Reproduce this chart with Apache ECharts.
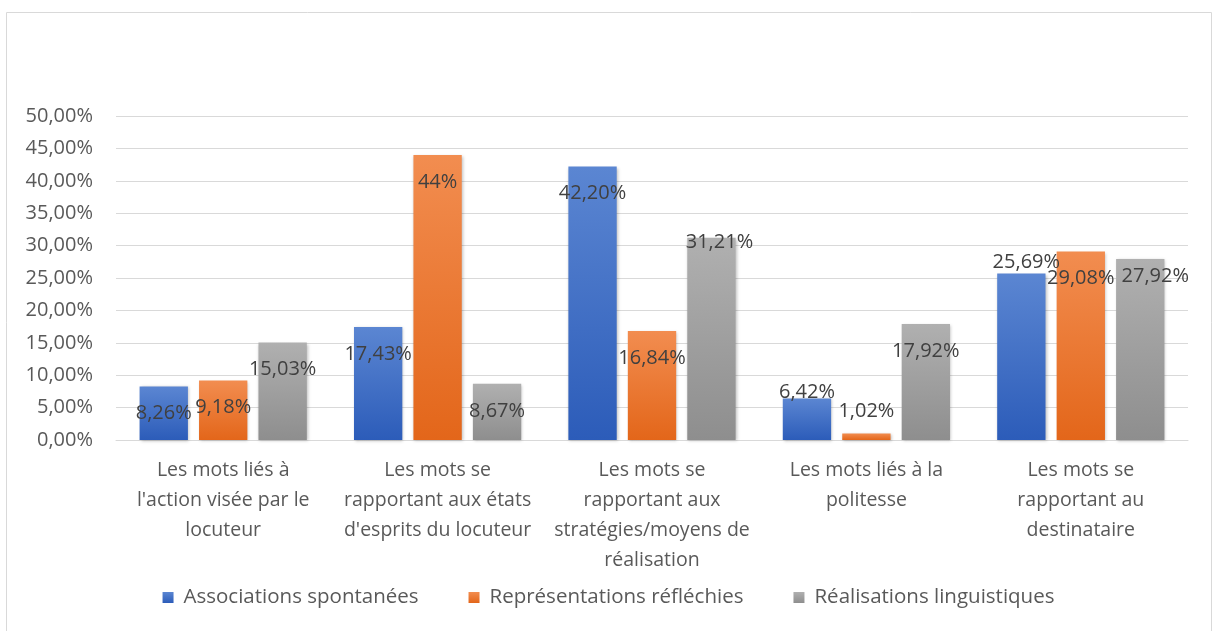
<!DOCTYPE html>
<html>
<head>
<meta charset="utf-8">
<script src="https://cdn.jsdelivr.net/npm/echarts@6/dist/echarts.min.js"></script>
<style>
  html, body { margin: 0; padding: 0; background: #fff; }
  #chart { width: 1217px; height: 631px; }
</style>
</head>
<body>
<div id="chart"></div>
<script>
const categories = [
  "Les mots liés à\nl'action visée par le\nlocuteur",
  "Les mots se\nrapportant aux états\nd'esprits du locuteur",
  "Les mots se\nrapportant aux\nstratégies/moyens de\nréalisation",
  "Les mots liés à la\npolitesse",
  "Les mots se\nrapportant au\ndestinataire"
]
const seriesNames = ['Associations spontanées', 'Représentations réfléchies', 'Réalisations linguistiques']
const associations = [8.26, 17.43, 42.2, 6.42, 25.69]
const representations = [9.18, 44, 16.84, 1.02, 29.08]
const realisations = [15.03, 8.67, 31.21, 17.92, 27.92]

const font = '"Open Sans", "Noto Sans", sans-serif'
const textColor = '#595959'

function grad(top, bottom) {
  return new echarts.graphic.LinearGradient(0, 0, 0, 1, [
    { offset: 0, color: top },
    { offset: 1, color: bottom }
  ])
}

function fmtLabel(v) {
  if (Number.isInteger(v)) return v + '%'
  return v.toFixed(2).replace('.', ',') + '%'
}

// label nudges where Excel moved the labels around
const nudges = {
  '2-2': [8, -22],
  '0-3': [0, -33],
  '1-3': [0, -49],
  '0-4': [5, -38],
  '2-4': [15, -10]
}

function buildData(values, s) {
  return values.map((v, i) => {
    const n = nudges[s + '-' + i]
    if (!n) return v
    return { value: v, label: { offset: n } }
  })
}

const colors = [
  ['#5B86D2', '#2C5CB9', '#4472C4'],
  ['#F28D50', '#E3661A', '#ED7D31'],
  ['#B0B0B0', '#8E8E8E', '#A5A5A5']
]

const chartInstance = echarts.init(document.getElementById('chart'))
chartInstance.setOption({
  animation: false,
  textStyle: { fontFamily: font },
  graphic: [
    {
      type: 'rect',
      shape: { x: 6.5, y: 12.5, width: 1205, height: 640 },
      style: { fill: 'none', stroke: '#D9D9D9', lineWidth: 1 },
      silent: true
    }
  ],
  legend: {
    bottom: 18,
    left: 'center',
    itemWidth: 11,
    itemHeight: 11,
    itemGap: 50,
    icon: 'rect',
    textStyle: { color: textColor, fontSize: 20.5, fontFamily: font, padding: [0, 0, 0, 5] },
    data: seriesNames
  },
  grid: {
    left: 116,
    right: 29,
    top: 116,
    bottom: 191
  },
  xAxis: {
    type: 'category',
    data: categories,
    axisLine: { lineStyle: { color: '#D9D9D9', width: 1 } },
    axisTick: { show: false },
    axisLabel: {
      color: textColor,
      fontSize: 19.5,
      lineHeight: 30,
      margin: 15,
      interval: 0,
      fontFamily: font
    }
  },
  yAxis: {
    type: 'value',
    min: 0,
    max: 50,
    interval: 5,
    axisLine: { show: false },
    axisTick: { show: false },
    splitLine: { lineStyle: { color: '#D9D9D9', width: 1 } },
    axisLabel: {
      color: textColor,
      fontSize: 20,
      margin: 23,
      fontFamily: font,
      formatter: (v) => v.toFixed(2).replace('.', ',') + '%'
    }
  },
  series: [associations, representations, realisations].map((vals, s) => ({
    name: seriesNames[s],
    type: 'bar',
    barGap: '23%',
    barCategoryGap: '22%',
    data: buildData(vals, s),
    itemStyle: {
      color: grad(colors[s][0], colors[s][1]),
      shadowBlur: 3,
      shadowColor: 'rgba(0,0,0,0.25)',
      shadowOffsetX: 1,
      shadowOffsetY: 1
    },
    label: {
      show: true,
      position: 'insideTop',
      distance: 17,
      color: '#404040',
      fontSize: 20,
      fontFamily: font,
      formatter: (p) => fmtLabel(p.value)
    }
  })),
  color: colors.map((c) => c[2])
})
</script>
</body>
</html>
